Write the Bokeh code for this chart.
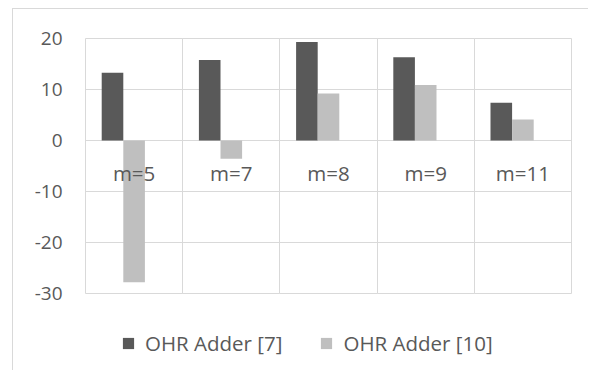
import numpy as np
from bokeh.plotting import figure
from bokeh.layouts import column
from bokeh.models import Range1d, Grid, FixedTicker, Legend, LegendItem, ColumnDataSource
from bokeh.core.properties import value
from bokeh.embed import file_html
from bokeh.resources import INLINE

categories = ["m=5", "m=7", "m=8", "m=9", "m=11"]
ohr7 = [13.3, 15.8, 19.3, 16.3, 7.4]
ohr10 = [-27.8, -3.6, 9.2, 10.9, 4.1]
y_ticks = [-30, -20, -10, 0, 10, 20]
series_names = ["OHR Adder [7]", "OHR Adder [10]"]
colors = ["#595959", "#bfbfbf"]

FONT = "Open Sans"
TXT = "#595959"
GRID = "#d9d9d9"
FS = "19px"
FS2 = "20.5px"

idx = np.arange(len(categories)) + 0.5
bw = 0.2222

p = figure(width=575, height=301, output_backend="svg", toolbar_location=None,
           x_range=Range1d(0, len(categories)), y_range=Range1d(-30, 20),
           x_axis_location=None, min_border_left=72, min_border_right=17,
           min_border_top=29, min_border_bottom=17)
p.outline_line_color = GRID
p.outline_line_width = 1
p.background_fill_color = "white"
p.border_fill_color = "white"

p.yaxis.ticker = FixedTicker(ticks=y_ticks)
p.yaxis.major_label_overrides = {t: str(t) for t in y_ticks}
p.yaxis.axis_line_color = None
p.yaxis.major_tick_line_color = None
p.yaxis.minor_tick_line_color = None
p.yaxis.major_label_text_font = FONT
p.yaxis.major_label_text_font_size = FS
p.yaxis.major_label_text_color = TXT
p.yaxis.major_label_standoff = 17
p.ygrid.grid_line_color = GRID
p.ygrid.grid_line_width = 1

p.add_layout(Grid(dimension=0, ticker=FixedTicker(ticks=list(np.arange(1, len(categories)))),
                  grid_line_color=GRID, grid_line_width=1))

src = ColumnDataSource(dict(x=idx, cat=categories, zero=[0]*len(categories)))
p.vbar(x=idx - bw, width=bw, top=ohr7, bottom=0, fill_color=colors[0], line_color=None)
p.vbar(x=idx, width=bw, top=ohr10, bottom=0, fill_color=colors[1], line_color=None)

p.text(x="x", y="zero", text="cat", source=src, text_align="center", text_baseline="middle",
       y_offset=32, text_font=value(FONT), text_font_size=FS2, text_color=TXT)

# legend strip (frame aligned with main plot by the column layout)
lg = figure(width=575, height=60, output_backend="svg", toolbar_location=None,
            x_range=Range1d(0, 1), y_range=Range1d(0, 1),
            x_axis_location=None, y_axis_location=None,
            min_border_left=0, min_border_right=0, min_border_top=0, min_border_bottom=0)
lg.outline_line_color = None
lg.xgrid.visible = False
lg.ygrid.visible = False
rs = [lg.vbar(x=[-5], top=[-5], width=0.1, fill_color=c, line_color=None) for c in colors]
legend = Legend(items=[LegendItem(label=n, renderers=[r]) for n, r in zip(series_names, rs)],
                orientation="horizontal", location=(36, 13),
                glyph_width=14, glyph_height=14, label_standoff=10, spacing=37,
                padding=0, margin=0, border_line_color=None, background_fill_alpha=0,
                label_text_font=FONT, label_text_font_size=FS2, label_text_color=TXT)
lg.add_layout(legend, "center")

layout = column(p, lg, spacing=0)
layout.styles = {"border-left": "1px solid #d9d9d9", "border-top": "1px solid #d9d9d9",
                 "margin-left": "12px", "margin-top": "8px"}

open("out.html", "w").write(file_html(layout, INLINE))
